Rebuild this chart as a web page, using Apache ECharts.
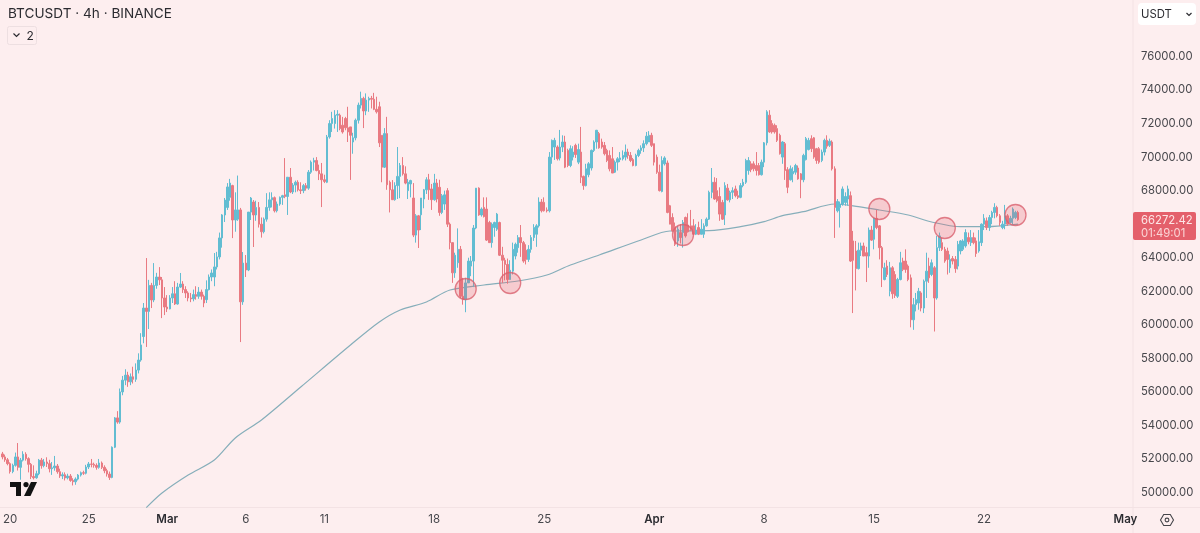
<!DOCTYPE html>
<html>
<head>
<meta charset="utf-8">
<title>BTCUSDT 4h</title>
<script src="https://cdn.jsdelivr.net/npm/echarts@6/dist/echarts.min.js"></script>
<style>
html,body{margin:0;padding:0;background:#fdeeef;}
#chart{width:1200px;height:533px;}
</style>
</head>
<body>
<div id="chart"></div>
<script>
// 4h candles as [open, close, low, high], first bar is 19 Feb 12:00
const febCandles = [
[52300,52120,51980,52420],[52120,51950,51830,52260],[51950,51720,51620,52060],[51720,51250,51130,51800],[51250,51620,51150,51720],[51620,52120,51540,52380],
[52120,51500,51310,52950],[51500,51930,50760,52060],[51930,52280,51850,52460],[52280,52020,51900,52400],[52020,51680,51200,52100],[51680,50950,50800,51760],
[50950,50880,50780,51620],[50880,51120,50820,51300],[51120,51930,51030,52000],[51930,51600,51420,52060],[51600,51820,51500,52000],[51820,51720,51520,52100],
[51720,51420,51200,51950],[51420,51470,51050,51820],[51470,51580,51300,52180],[51580,51240,51120,51700],[51240,50990,50870,51420],[50990,51060,50800,51200],
[51060,50870,50720,51200],[50870,50980,50780,51120],[50980,50720,50640,51100],[50720,50640,50420,50850],[50640,50800,50460,50900],[50800,51040,50720,51100],
[51040,51180,50950,51250],[51180,51150,51050,51300],[51150,51520,51080,51650],[51520,51700,51400,51820],[51700,51680,51500,52000],[51680,51620,51480,51780],
[51620,51500,51360,51740],[51500,51760,51420,52000],[51760,51500,51400,51850],[51500,51300,51150,51620],[51300,51100,50950,51420],[51100,50900,50750,51250],
[50900,52700,50850,52750],[52700,54450,52650,54500],[54450,54200,54100,54850],[54200,56000,54100,56200],[56000,56700,55800,56950],[56700,57000,56400,57350],
[57000,56600,56300,57200],[56600,56900,56400,57100],[56900,56750,56500,57500],[56750,57300,56600,57700],[57300,57900,57100,58300],[57900,58800,57800,59500],
[59300,61000,58900,61300],[61000,60800,58680,63980],[60800,62350,59750,62680],[62350,61480,61000,62500],[61480,62350,61350,63680],[62350,62850,62150,63100],
[62850,62680,62370,63440],[62680,61600,60400,62850],[61600,61060,60580,62250]
];
const marCandles = [
[61060,60950,60760,61770],[60950,61600,60920,61770],[61600,61850,61300,62250],[61850,61240,61180,62600],[61240,62250,61200,62500],[62250,62430,62200,63090],
[62430,62100,61900,62600],[62100,61900,61600,62300],[61900,61600,61400,62000],[61600,61550,61350,61900],[61550,61800,61400,62100],[61800,61700,61500,62300],
[61700,61950,61550,62250],[61950,61700,61500,62100],[61700,61300,61050,61800],[61500,62100,61300,62650],[62100,62850,62050,63000],[62850,63090,62600,63300],
[62850,63450,62300,64280],[63450,64050,63300,64350],[64050,65180,63900,65500],[65180,66550,64600,66600],[66550,67440,66130,67560],[67000,68220,66850,68450],
[67600,68450,67400,68700],[68300,66250,65170,68350],[66250,66850,65550,67900],[66300,66850,66200,68900],[66850,61370,58970,66970],[61370,63680,61190,64340],
[63680,63270,62850,64160],[63270,66720,63200,66720],[66720,67560,66250,67620],[67320,66550,64640,67440],[66550,67000,66200,67400],[67000,66000,65800,67320],
[66000,65550,65200,66400],[65550,66300,65450,66400],[66300,67000,66150,67850],[67000,67450,66800,67900],[67450,67580,67000,67900],[67580,66800,66700,67650],
[66800,67200,66700,67350],[67200,67600,67100,67650],[67600,67700,67150,67750],[67750,67650,67550,69940],[67650,68800,66550,68800],[68800,67920,67850,69350],
[67920,68330,67800,68450],[68330,68500,67900,68600],[68500,68050,67950,68620],[68050,68000,67800,68500],[68000,68300,67850,68400],[68300,68150,68000,68450],
[68150,69100,68050,69230],[69100,69700,69000,69800],[69700,69800,69200,69960],[69800,69200,69150,70000],[69200,69000,68630,69550],[69000,68650,67020,69650],
[68650,68550,68450,68950],[68500,71200,68450,71320],[71200,72000,71100,72200],[72000,72300,71500,72700],[72000,72500,71700,72800],[72500,72550,71500,72800],
[72500,71700,71600,72600],[71900,71500,71400,72400],[72300,71750,71600,72400],[71750,71500,70900,73000],[71800,71300,68640,71800],[70900,71150,70200,71450],
[71150,72200,71000,72300],[72200,73100,72000,73250],[73100,73500,72900,73900],[73500,72750,71730,73600],[72750,73400,72500,73800],[73400,73500,72700,73600],
[73500,73450,72900,73650],[73450,72850,72800,73830],[72850,72700,72600,73600],[73000,70850,70600,73300],[71300,69400,68500,71300],[69400,71400,69350,71730],
[71400,68350,68050,72400],[68500,68050,66700,68600],[68050,67460,67450,68630],[67460,68300,67400,68500],[68300,68850,67500,70600],[68850,69500,67550,69650],
[69500,69000,68900,70000],[69000,68450,68380,69450],[68000,68500,67500,68700],[68400,68600,67600,68650],[67560,65350,65230,68450],[65350,66500,64900,66600],
[66500,65650,64580,66550],[66560,67560,65650,67560],[67500,68050,66950,68100],[68050,68650,67800,68800],[68650,68050,67450,69000],[68100,67460,66850,68400],
[67460,68450,67400,69000],[68450,67500,67300,68700],[68200,66700,66500,68650],[66700,67700,66600,67800],[67200,67750,66850,68000],[68000,66000,65830,68150],
[66000,64900,64500,66100],[64900,63100,62500,64900],[63100,64150,62800,64300],[63700,64500,63400,65750],[64500,61700,61600,64700],[61700,61500,61200,62800],
[61500,62500,60750,62800],[62500,63800,62600,64000],[63500,63800,62900,64100],[63800,65770,62250,65950],[65770,68150,65700,68150],[68150,66550,66500,68200],
[66550,66900,66450,67000],[67000,66450,66400,67600],[66900,65050,65000,67600],[66100,64900,64900,66200],[64900,66000,64600,66100],[65800,66100,65250,66150],
[65700,66600,65600,66670],[66100,64150,64100,66150],[64150,63850,62500,64650],[63850,63600,62650,64000],[63600,62700,62450,63950],[62700,63250,62700,63850],
[63200,64500,63000,64900],[64100,64800,63900,64900],[64600,65200,64300,65350],[65200,64900,64050,65950],[64900,63800,63700,65000],[64450,63900,63600,64800],
[63900,64500,63750,64750],[64500,65200,64300,65350],[65200,65800,65000,66000],[65400,65900,64650,66000],[65900,67320,65800,67600],[67320,66800,66700,67500],
[67300,66800,66750,67600],[66850,66800,66700,67000],[66800,70000,66700,70300],[70000,71000,69600,71050],[70600,71000,69830,71150],[70600,69900,69800,70700],
[69950,70600,69800,71620],[70600,70900,70300,71300],[70900,69400,69340,71270],[70400,69500,69400,70500],[69500,70500,69400,70700],[70000,70300,69800,70650],
[70700,70150,69950,70800],[69700,70450,69580,70800],[70300,68800,68450,71800],[68850,68300,68050,68900],[68300,69300,68250,69600],[68950,69600,68800,69700],
[69350,70400,69200,70450],[70400,70900,70300,71000],[70900,71600,70500,71620],[71400,70550,70500,71500],[70900,70600,70500,71100],[70700,70200,70100,70900],
[70400,69800,69700,70500],[70100,69300,69150,70400],[69900,69050,69050,70600],[69100,69700,69050,69800],[69700,69900,69200,70000],[69850,69950,69700,70300],
[69900,70100,69800,70400],[70000,70300,69800,70750],[70300,70100,69900,70500],[70100,69800,69700,70300],[69850,69500,69450,69950],[69500,70100,69450,70200],
[70100,70400,70000,70500],[70400,70550,70200,70700],[70550,70800,70300,71000],[70800,71250,70700,71500],[70900,71300,70900,71550],[71300,70700,70600,71450]
];
const aprCandles = [
[70800,69700,69500,70800],[70000,69100,69000,70150],[69100,68000,67950,69550],[67950,69800,67900,70050],[69600,69950,69500,70050],[69650,66700,66650,69800],
[67100,66000,66000,67150],[66400,65600,65550,66650],[65850,64800,64700,66100],[65000,65700,64650,65900],[65500,65200,64850,66000],[65500,66100,64600,66250],
[66400,65300,65200,66450],[65950,65550,65500,66650],[65900,65700,65600,66850],[65900,65400,65350,66300],[65400,65650,65350,66000],[65800,65400,65350,66150],
[65400,65700,65400,66300],[65400,65900,65180,66050],[65900,66300,65850,66400],[66300,67900,66250,68000],[67900,68500,67550,69350],[68500,67500,67450,68800],
[68000,67400,67300,68750],[67650,66600,66200,68200],[67300,66300,66250,67450],[66550,68300,65950,68500],[68150,67450,67400,68400],[67450,67900,67300,68000],
[67900,68000,67500,68200],[68100,67700,67600,68300],[67700,67600,67500,68000],[67600,68300,67550,68450],[68300,68500,68200,68700],[68500,69800,68400,69900],
[69200,69800,68950,70000],[69600,69250,69100,69750],[69600,69300,69150,69750],[69500,69200,68900,70300],[69500,68950,68900,69650],[68950,69700,68900,69850],
[69700,70850,69400,70900],[70850,72700,70700,72800],[72500,71500,71450,72800],[72000,71500,71400,72200],[71900,71500,71400,72000],[71700,71000,70900,71900],
[71300,70200,70150,71400],[70000,70900,69600,70950],[70800,69200,68640,70900],[69250,68200,67850,69400],[68650,69300,68600,69500],[69000,69150,68500,69400],
[69100,69500,68950,69600],[69350,68700,68650,69500],[69000,68650,67550,69050],[68650,70100,68500,70200],[69850,71100,69800,71200],[70450,71000,70400,71150],
[71100,70500,70300,71300],[71150,70000,69900,71200],[70500,69800,69600,70550],[70500,69700,69600,70600],[69800,70300,69700,70450],[70300,71000,70100,71100],
[71000,70650,70500,71300],[70700,70950,70600,71100],[70900,69300,69200,71000],[69300,67000,65180,69450],[66800,67350,66700,67500],[67000,67200,65800,67350],
[67200,68100,67100,68250],[67300,67650,67100,67900],[67500,68100,67100,68300],[67700,63800,63750,67950],[65000,63850,60700,65600],[64400,63350,62050,65000],
[63350,64450,63300,64900],[64450,64700,64100,64900],[64700,64100,64100,64900],[64300,64100,62550,64650],[64100,65650,63400,65800],[65650,65050,65000,65900],
[65100,66350,64500,66370],[66350,65800,65700,66850],[65900,64600,63900,65950],[64600,63400,62250,64700],[62700,63400,62650,63700],[63500,63000,62850,63850],
[62000,63400,61700,63750],[63400,61850,61550,63500],[63000,61750,61600,63200],[61700,62700,61600,62800],[62700,63700,62650,64350],[63800,63300,63200,64000],
[63800,63300,63100,64500],[63500,62700,62600,63600],[62800,60300,59850,63000],[60300,61200,59700,61600],[61200,61500,60800,61900],[61300,62000,60900,62200],
[61900,61000,60800,62000],[61000,62600,60700,62700],[62600,63200,61600,64300],[63500,62800,62500,64000],[63000,63700,62900,63900],[63400,61600,59600,63500],
[61600,64600,61500,65300],[64600,65300,64400,65500],[64900,64500,64400,65200],[64500,63800,63700,64650],[64400,63900,63000,64600],[63400,63900,63100,64200],
[63950,63800,63600,64100],[63900,63350,63100,64100],[63500,64800,63300,65000],[64400,65000,64200,65050],[64500,65000,64400,65100],[64700,65500,64600,65700],
[65200,64950,64800,65500],[64900,65200,64700,65650],[65200,64900,64800,65500],[65000,64250,64050,65200],[64400,64950,64300,65650],[64900,66000,64700,66050],
[66000,66350,65650,66600],[66200,65800,65650,66400],[65800,66400,65600,66550],[66400,66700,66000,66800],[66700,67000,66350,67250],[67000,66500,66400,67100],
[66500,66100,65900,66600],[65800,66000,65700,66200],[66000,66500,65700,67150],[66500,66000,65900,66600],[66100,66350,66050,66500],[66350,66900,66000,67000],
[66400,66700,66300,66800],[66700,66272.42,66200,66800]
];

// moving average, sampled by bar number
const maBars = [55,61,71,81,89,99,114,133,144,152,162,171,184,197,208,217,228,244,255,270,282,291,298,306,318,327,335,346,355,366,375,385,388];
const maValues = [49094,49970,51044,51938,53250,54323,56291,58795,60167,60882,61360,62075,62374,62612,62970,63566,64162,65057,65593,65612,65850,66148,66506,66745,67204,67043,66845,66548,66130,65850,65850,65950,66000];

// highlighted touches of the moving average
const touchBars = [177,194,260,335,360,387];
const touchPrices = [62135,62493,65355,66905,65772,66548];

// the 66000 tick sits behind the last-price tag, so it is left out
const priceTicks = [50000,52000,54000,56000,58000,60000,62000,64000,68000,70000,72000,74000,76000];
const timeTickBars = [3,33,63,93,123,165,207,249,291,333,375,429];
const timeTickLabels = ['20','25','Mar','6','11','18','25','Apr','8','15','22','May'];
const boldTimeLabels = ['Mar','Apr','May'];

const titleText = 'BTCUSDT · 4h · BINANCE';
const lastPrice = '66272.42';
const countdown = '01:49:01';
const barCount = 432;

const candles = [...febCandles, ...marCandles, ...aprCandles];
const lastClose = candles[candles.length - 1][1];

// one slot per 4h bar, running on past the last candle
const categories = [];
for (let i = 0; i < barCount; i++) {
  categories.push(new Date(Date.UTC(2024, 1, 19, 12 + 4 * i)).toISOString().slice(0, 16));
}

const UI_FONT = 'Inter, "Noto Sans", sans-serif';
const INK = '#2b2b30';
const AXIS_TEXT = '#47474c';
const RULE = '#f3e2e4';
const TICK_SIZE = 11.3;

const chart = echarts.init(document.getElementById('chart'), null, { renderer: 'canvas' });

chart.setOption({
  animation: false,
  backgroundColor: '#fdeeef',
  grid: { left: 0.84, right: 68, top: 0, bottom: 25 },
  tooltip: { show: false },
  xAxis: {
    type: 'category',
    data: categories,
    boundaryGap: true,
    axisLine: { show: false },
    axisTick: { show: false },
    splitLine: { show: false },
    axisLabel: {
      interval: (i) => timeTickBars.includes(i),
      margin: 6,
      color: AXIS_TEXT,
      fontFamily: UI_FONT,
      fontSize: 11.5,
      formatter: (v, i) => {
        const label = timeTickLabels[timeTickBars.indexOf(i)];
        return boldTimeLabels.includes(label) ? '{b|' + label + '}' : label;
      },
      rich: { b: { fontWeight: 600, color: INK, fontFamily: UI_FONT, fontSize: 11.5 } }
    }
  },
  yAxis: {
    type: 'value',
    position: 'right',
    min: 49076,
    max: 79368,
    scale: true,
    axisLine: { show: false },
    axisTick: { show: false },
    splitLine: { show: false },
    axisLabel: {
      customValues: priceTicks,
      margin: 9,
      color: AXIS_TEXT,
      fontFamily: UI_FONT,
      fontSize: TICK_SIZE,
      formatter: (v) => v.toFixed(2)
    }
  },
  series: [
    {
      type: 'line',
      name: 'MA',
      data: maBars.map((b, i) => [b, maValues[i]]),
      showSymbol: false,
      symbol: 'none',
      smooth: 0.3,
      z: 2,
      clip: true,
      lineStyle: { color: '#86aeba', width: 1.2 }
    },
    {
      type: 'candlestick',
      name: 'BTCUSDT',
      data: candles,
      barWidth: 2,
      large: false,
      progressive: 0,
      z: 3,
      clip: true,
      itemStyle: {
        color: '#62bdd2',
        color0: '#e97a82',
        borderColor: '#62bdd2',
        borderColor0: '#e97a82',
        borderWidth: 1
      }
    },
    {
      type: 'scatter',
      name: 'touches',
      data: touchBars.map((b, i) => [b, touchPrices[i]]),
      symbol: 'circle',
      symbolSize: 21,
      z: 4,
      itemStyle: {
        color: 'rgba(226,96,108,0.30)',
        borderColor: '#d9606e',
        borderWidth: 1.3
      }
    }
  ]
});

// price tag follows the last close on the price scale
const tagY = chart.convertToPixel({ yAxisIndex: 0 }, lastClose);

chart.setOption({
  graphic: [
    { type: 'line', shape: { x1: 1133, y1: 0, x2: 1133, y2: 533 }, style: { stroke: RULE, lineWidth: 1 }, silent: true },
    { type: 'line', shape: { x1: 0, y1: 507.5, x2: 1200, y2: 507.5 }, style: { stroke: RULE, lineWidth: 1 }, silent: true },

    { type: 'text', x: 8, y: 7, style: { text: titleText, fill: INK, font: '13.6px ' + UI_FONT } },

    { type: 'rect', shape: { x: 7.5, y: 26.5, width: 29, height: 18, r: 2 }, style: { fill: 'transparent', stroke: '#eddfe1', lineWidth: 1 } },
    { type: 'polyline', shape: { points: [[13.5, 33.5], [16.5, 36.5], [19.5, 33.5]] }, style: { stroke: INK, lineWidth: 1.2, fill: null } },
    { type: 'text', x: 26.5, y: 30.5, style: { text: '2', fill: INK, font: '12px ' + UI_FONT } },

    { type: 'rect', shape: { x: 1138, y: 3, width: 58, height: 22, r: 4 }, style: { fill: '#ffffff' } },
    { type: 'text', x: 1141, y: 9, style: { text: 'USDT', fill: INK, font: '11.3px ' + UI_FONT } },
    { type: 'polyline', shape: { points: [[1186.5, 13], [1189, 15.5], [1191.5, 13]] }, style: { stroke: INK, lineWidth: 1.2, fill: null } },

    { type: 'rect', shape: { x: 1133, y: tagY - 7.5, width: 63, height: 28, r: 2 }, style: { fill: '#e4606b' } },
    { type: 'text', x: 1141, y: tagY - 5, style: { text: lastPrice, fill: '#fde6e6', font: TICK_SIZE + 'px ' + UI_FONT } },
    { type: 'text', x: 1141, y: tagY + 8.5, style: { text: countdown, fill: '#fbd5d6', font: TICK_SIZE + 'px ' + UI_FONT } },

    // exchange logo, lower left
    { type: 'polygon', shape: { points: [[10, 482], [21, 482], [21, 496], [16, 496], [16, 487], [10, 487]] }, style: { fill: '#121212' } },
    { type: 'circle', shape: { cx: 26, cy: 484.6, r: 2.6 }, style: { fill: '#121212' } },
    { type: 'polygon', shape: { points: [[31, 482], [37, 482], [30.5, 496], [24, 496]] }, style: { fill: '#121212' } },

    // settings button
    { type: 'polygon', shape: { points: [[1160.5, 520], [1163.7, 514.5], [1170.3, 514.5], [1173.5, 520], [1170.3, 525.5], [1163.7, 525.5]] }, style: { fill: 'transparent', stroke: '#45454a', lineWidth: 1.1 } },
    { type: 'circle', shape: { cx: 1167, cy: 520, r: 1.9 }, style: { fill: 'transparent', stroke: '#45454a', lineWidth: 1.1 } }
  ]
});
</script>
</body>
</html>
